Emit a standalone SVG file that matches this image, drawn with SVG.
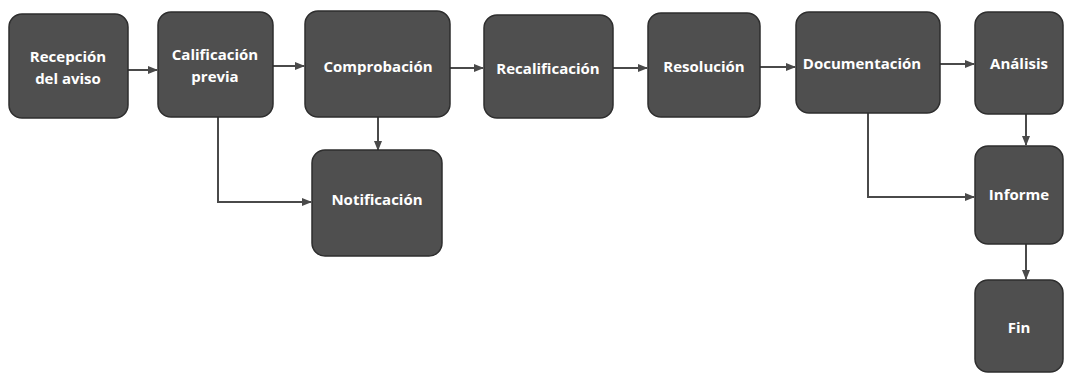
<svg xmlns="http://www.w3.org/2000/svg" width="1072" height="374" viewBox="0 0 1072 374">
<defs>
<style>
.box{fill:#4f4f4f;stroke:#2e2e2e;stroke-width:1.5}
.lbl{font-family:"Open Sans","Liberation Sans",sans-serif;font-weight:bold;font-size:15px;fill:#ffffff;text-anchor:middle}
.con{fill:none;stroke:#4a4a4a;stroke-width:2;marker-end:url(#ah)}
</style>
<marker id="ah" viewBox="0 0 10 10" refX="9" refY="5" markerWidth="5" markerHeight="5" orient="auto" markerUnits="strokeWidth">
<path d="M0,1 L10,5 L0,9 z" fill="#4a4a4a"/>
</marker>
</defs>
<rect width="1072" height="374" fill="#ffffff"/>
<g id="connectors">
<path class="con" d="M128,70 H157"/>
<path class="con" d="M273,66 H304"/>
<path class="con" d="M450,68 H483"/>
<path class="con" d="M613,68 H647"/>
<path class="con" d="M760,67 H795"/>
<path class="con" d="M940,64 H974"/>
<path class="con" d="M218,117 V202 H311"/>
<path class="con" d="M378,117 V150"/>
<path class="con" d="M868,113 V197 H974"/>
<path class="con" d="M1026,114 V145"/>
<path class="con" d="M1026,244 V279"/>
</g>
<g id="recepcion"><rect class="box" x="9" y="14" width="119" height="104" rx="13"/><text class="lbl" x="68" y="62">Recepción</text><text class="lbl" x="68" y="84">del aviso</text></g>
<g id="calificacion"><rect class="box" x="158" y="12" width="115" height="105" rx="13"/><text class="lbl" x="215" y="60">Calificación</text><text class="lbl" x="215" y="82">previa</text></g>
<g id="comprobacion"><rect class="box" x="305" y="11" width="145" height="106" rx="13"/><text class="lbl" x="378" y="72">Comprobación</text></g>
<g id="recalificacion"><rect class="box" x="484" y="15" width="129" height="103" rx="13"/><text class="lbl" x="548" y="74">Recalificación</text></g>
<g id="resolucion"><rect class="box" x="648" y="13" width="112" height="104" rx="13"/><text class="lbl" x="704" y="72">Resolución</text></g>
<g id="documentacion"><rect class="box" x="796" y="12" width="144" height="101" rx="13"/><text class="lbl" x="862" y="69">Documentación</text></g>
<g id="analisis"><rect class="box" x="975" y="12" width="88" height="102" rx="13"/><text class="lbl" x="1019" y="69">Análisis</text></g>
<g id="notificacion"><rect class="box" x="312" y="150" width="130" height="106" rx="13"/><text class="lbl" x="377" y="205">Notificación</text></g>
<g id="informe"><rect class="box" x="975" y="146" width="88" height="98" rx="13"/><text class="lbl" x="1019" y="200">Informe</text></g>
<g id="fin"><rect class="box" x="975" y="280" width="88" height="92" rx="13"/><text class="lbl" x="1019" y="333">Fin</text></g>
</svg>
